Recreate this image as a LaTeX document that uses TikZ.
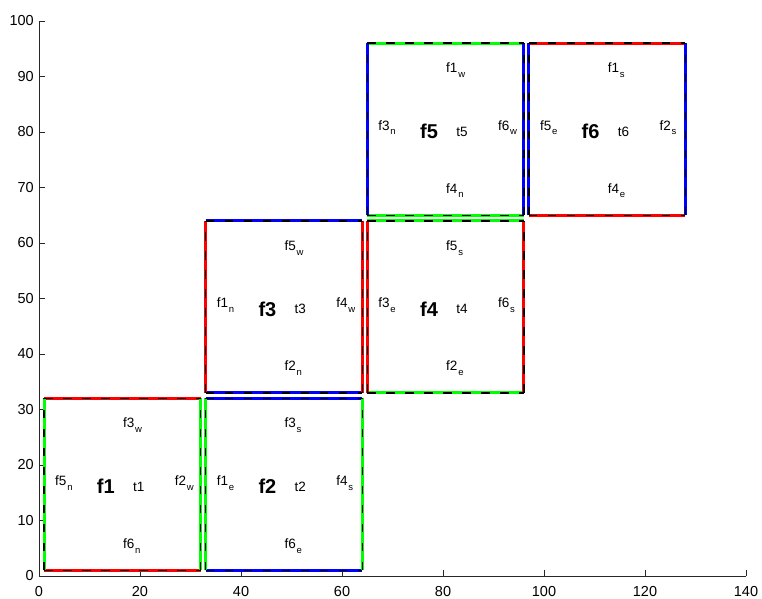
\documentclass[tikz,border=0pt]{standalone}
\usepackage{fontspec}
\setmainfont{Liberation Sans}
\usetikzlibrary{calc}
\definecolor{mred}{rgb}{1,0,0}
\definecolor{mgreen}{rgb}{0,1,0}
\definecolor{mblue}{rgb}{0,0,1}
\newcommand{\sublab}[2]{#1\kern0.8pt\raisebox{-4.8pt}{\fontsize{9.5}{10}\selectfont #2}}
\tikzset{
  edgeline/.style={line width=3pt},
  dashline/.style={line width=1.4pt, black, dash pattern=on 8.5pt off 10.5pt},
  lbl/.style={anchor=base west, inner sep=0pt, font=\fontsize{13.5}{14}\selectfont},
  biglbl/.style={anchor=base west, inner sep=0pt, font=\fontsize{20}{22}\selectfont\bfseries},
  ticklbl/.style={inner sep=0pt, font=\fontsize{14.5}{15}\selectfont},
  axisline/.style={line width=0.9pt, black!85},
}
\begin{document}
\begin{tikzpicture}[x=5.05pt,y=5.55pt]
\useasboundingbox (-39pt,-22pt) rectangle (723pt,576pt);
% axes
\coordinate (origin) at (0,0);
\coordinate (ytop) at (0,100);
\coordinate (xend) at (140,0);
\draw[axisline] (ytop) -- (origin) -- (xend);
\foreach \v in {0,10,...,100}{
  \draw[axisline] (0,\v) -- ++(6pt,0);
  \node[ticklbl, anchor=east] (yt\v) at ([xshift=-5pt]0,\v) {\v};
}
\foreach \v in {0,20,...,140}{
  \draw[axisline] (\v,0) -- ++(0,6pt);
  \node[ticklbl, anchor=north] (xt\v) at ([yshift=-10pt]\v,0) {\v};
}
% squares
\foreach \i/\L/\B/\ch/\cv/\la/\lb/\ra/\rb/\ua/\ub/\da/\db in {
  1/1/1/mred/mgreen/f5/n/f2/w/f3/w/f6/n,
  2/33/1/mblue/mgreen/f1/e/f4/s/f3/s/f6/e,
  3/33/33/mblue/mred/f1/n/f4/w/f5/w/f2/n,
  4/65/33/mgreen/mred/f3/e/f6/s/f5/s/f2/e,
  5/65/65/mgreen/mblue/f3/n/f6/w/f1/w/f4/n,
  6/97/65/mred/mblue/f5/e/f2/s/f1/s/f4/e}{
  \path (\L,\B) coordinate (sw\i) ++(31,0) coordinate (se\i)
        ++(0,31) coordinate (ne\i) ++(-31,0) coordinate (nw\i);
  \draw[edgeline,\ch] (sw\i) -- (se\i);
  \draw[edgeline,\ch] (nw\i) -- (ne\i);
  \draw[edgeline,\cv] (sw\i) -- (nw\i);
  \draw[edgeline,\cv] (se\i) -- (ne\i);
  \draw[dashline] (sw\i) -- (se\i);
  \draw[dashline] (nw\i) -- (ne\i);
  \draw[dashline] (sw\i) -- (nw\i);
  \draw[dashline] (se\i) -- (ne\i);
  \node[lbl] (left\i) at ($(sw\i)+(2.17,15.35)$) {\sublab{\la}{\lb}};
  \node[biglbl] (name\i) at ($(sw\i)+(10.43,13.8)$) {f\i};
  \node[lbl] (tt\i) at ($(sw\i)+(17.6,14.25)$) {t\i};
  \node[lbl] (right\i) at ($(sw\i)+(25.85,15.35)$) {\sublab{\ra}{\rb}};
  \node[lbl] (up\i) at ($(sw\i)+(15.6,25.7)$) {\sublab{\ua}{\ub}};
  \node[lbl] (down\i) at ($(sw\i)+(15.6,4.0)$) {\sublab{\da}{\db}};
}
\end{tikzpicture}
\end{document}
